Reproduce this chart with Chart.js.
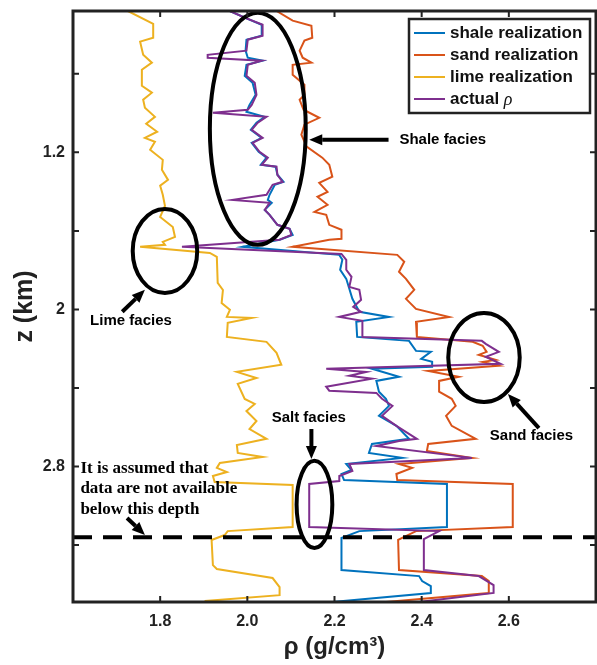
<!DOCTYPE html>
<html>
<head>
<meta charset="utf-8">
<script src="https://cdn.jsdelivr.net/npm/chart.js@4.4.0/dist/chart.umd.min.js"></script>
<style>
  html, body { margin: 0; padding: 0; background: #fff; }
  #wrap { width: 597px; height: 665px; }
</style>
</head>
<body>
<div id="wrap"><canvas id="rhoChart" width="597" height="665"></canvas></div>
<script>
const shaleZ = [0.48,0.514,0.550,0.606,0.626,0.682,0.718,0.733,0.754,0.810,0.845,0.907,0.958,0.993,1.019,1.049,1.085,1.126,1.151,1.197,1.227,1.263,1.273,1.314,1.350,1.365,1.416,1.442,1.457,1.493,1.518,1.569,1.589,1.620,1.645,1.681,1.722,1.747,1.798,1.844,1.895,1.946,2.012,2.038,2.063,2.140,2.160,2.211,2.216,2.252,2.267,2.292,2.302,2.343,2.364,2.419,2.455,2.491,2.542,2.593,2.659,2.685,2.731,2.756,2.787,2.818,2.838,2.869,2.889,3.108,3.129,3.164,3.327,3.358,3.383,3.409,3.444,3.49];
const shaleRho = [1.960,1.994,2.033,2.033,1.998,1.996,2.001,2.035,1.998,1.994,2.012,2.019,2.005,1.998,2.040,2.021,2.008,2.033,2.010,2.026,2.044,2.031,2.065,2.069,2.083,2.063,2.051,2.047,2.056,2.040,2.051,2.069,2.097,2.104,2.074,1.989,2.211,2.218,2.213,2.227,2.234,2.241,2.257,2.325,2.250,2.252,2.371,2.387,2.421,2.399,2.424,2.424,2.286,2.348,2.296,2.302,2.318,2.325,2.302,2.342,2.371,2.286,2.279,2.355,2.227,2.239,2.216,2.222,2.458,2.458,2.257,2.216,2.216,2.394,2.401,2.421,2.421,2.195];

const sandZ = [0.48,0.529,0.555,0.616,0.631,0.682,0.718,0.743,0.754,0.805,0.856,0.907,0.932,0.983,1.024,1.059,1.110,1.171,1.227,1.263,1.324,1.355,1.401,1.426,1.467,1.503,1.518,1.569,1.594,1.640,1.645,1.681,1.722,1.757,1.808,1.844,1.900,1.946,1.997,2.038,2.063,2.140,2.165,2.185,2.216,2.231,2.257,2.267,2.287,2.313,2.343,2.364,2.419,2.455,2.491,2.542,2.593,2.659,2.685,2.721,2.756,2.787,2.807,2.838,2.869,2.889,3.108,3.129,3.174,3.327,3.358,3.383,3.444,3.49];
const sandRho = [2.067,2.104,2.147,2.149,2.131,2.120,2.127,2.147,2.104,2.104,2.131,2.131,2.120,2.129,2.165,2.131,2.124,2.136,2.172,2.188,2.195,2.165,2.184,2.161,2.184,2.154,2.181,2.188,2.216,2.216,2.188,2.104,2.344,2.360,2.348,2.364,2.383,2.364,2.387,2.463,2.387,2.389,2.517,2.540,2.549,2.531,2.570,2.540,2.577,2.415,2.485,2.440,2.440,2.469,2.478,2.456,2.469,2.524,2.415,2.412,2.515,2.348,2.378,2.342,2.344,2.609,2.609,2.387,2.346,2.348,2.538,2.554,2.554,2.318];

const limeZ = [0.48,0.545,0.616,0.636,0.703,0.743,0.779,0.861,0.896,0.932,0.973,1.019,1.054,1.095,1.126,1.146,1.187,1.238,1.289,1.340,1.370,1.416,1.472,1.529,1.580,1.631,1.656,1.671,1.681,1.712,1.732,1.865,1.901,1.967,2.002,2.038,2.043,2.068,2.140,2.165,2.221,2.282,2.318,2.349,2.379,2.456,2.481,2.517,2.568,2.609,2.659,2.690,2.731,2.751,2.782,2.807,2.828,2.848,2.879,2.894,3.108,3.129,3.149,3.174,3.302,3.322,3.368,3.414,3.455,3.485];
const limeRho = [1.726,1.784,1.784,1.754,1.761,1.781,1.758,1.758,1.781,1.761,1.765,1.788,1.768,1.793,1.765,1.788,1.777,1.806,1.804,1.818,1.800,1.806,1.811,1.800,1.829,1.834,1.806,1.811,1.754,1.914,1.930,1.932,1.944,1.941,1.960,1.953,2.010,1.955,1.953,2.044,2.067,2.078,1.976,2.021,1.978,1.994,2.017,1.998,2.021,2.005,2.044,1.976,1.978,2.035,1.937,1.930,1.953,1.921,1.925,2.104,2.104,1.955,1.948,1.918,1.921,1.930,2.058,2.074,2.074,1.902];

const actualZ = [0.48,0.514,0.550,0.606,0.626,0.682,0.703,0.718,0.733,0.754,0.810,0.845,0.907,0.958,0.983,0.998,1.019,1.049,1.085,1.126,1.151,1.197,1.227,1.263,1.273,1.314,1.350,1.365,1.416,1.442,1.457,1.493,1.518,1.569,1.589,1.620,1.645,1.681,1.717,1.747,1.798,1.834,1.885,1.900,1.951,1.987,2.012,2.038,2.058,2.140,2.160,2.175,2.216,2.241,2.277,2.302,2.318,2.338,2.353,2.394,2.414,2.425,2.455,2.491,2.542,2.593,2.659,2.670,2.695,2.756,2.787,2.823,2.848,2.874,2.889,3.108,3.129,3.170,3.327,3.358,3.404,3.444,3.49];
const actualRho = [1.960,1.994,2.035,2.035,2.001,1.998,1.909,1.909,2.033,2.001,1.998,2.017,2.021,2.010,2.001,1.921,2.044,2.024,2.010,2.035,2.012,2.028,2.047,2.033,2.067,2.069,2.081,2.058,2.044,1.966,2.051,2.040,2.051,2.069,2.097,2.101,2.074,1.850,2.216,2.227,2.227,2.239,2.234,2.257,2.261,2.243,2.261,2.211,2.264,2.264,2.538,2.547,2.577,2.547,2.581,2.181,2.273,2.234,2.286,2.181,2.188,2.296,2.309,2.333,2.309,2.342,2.389,2.348,2.296,2.515,2.234,2.241,2.211,2.211,2.142,2.142,2.440,2.405,2.405,2.531,2.565,2.565,2.394];

const xTicks = [1.6, 1.8, 2.0, 2.2, 2.4, 2.6, 2.8];
const xTickLabels = ['', '1.8', '2.0', '2.2', '2.4', '2.6', ''];
const yTicks = [0.8, 1.2, 1.6, 2.0, 2.4, 2.8, 3.2];
const yTickLabels = ['', '1.2', '', '2', '', '2.8', ''];

// depth below which data are assumed unavailable
const cutoffDepth = 3.16;

// hand-drawn annotations, placed in data units
const notes = {
  ellipses: [
    { rho: 2.024, z: 1.080, dRho: 0.110, dZ: 0.591 },
    { rho: 1.811, z: 1.702, dRho: 0.074, dZ: 0.214 },
    { rho: 2.543, z: 2.245, dRho: 0.082, dZ: 0.227 },
    { rho: 2.154, z: 2.993, dRho: 0.041, dZ: 0.222 }
  ],
  arrows: [
    { from: [2.324, 1.136], to: [2.142, 1.136] },
    { from: [1.713, 2.012], to: [1.765, 1.900] },
    { from: [2.669, 2.604], to: [2.598, 2.431] },
    { from: [2.147, 2.609], to: [2.147, 2.762] },
    { from: [1.724, 3.062], to: [1.765, 3.149] }
  ],
  labels: [
    { text: 'Shale facies', rho: 2.349, z: 1.136, align: 'left' },
    { text: 'Lime facies', rho: 1.733, z: 2.060, align: 'center' },
    { text: 'Sand facies', rho: 2.652, z: 2.644, align: 'center' },
    { text: 'Salt facies', rho: 2.141, z: 2.552, align: 'center' }
  ],
  depthNote: ['It is assumed that', 'data are not available', 'below this depth'],
  depthNoteZ: [2.811, 2.915, 3.017],
  depthNoteRho: 1.617
};

const SANS = '"Liberation Sans", Arial, Helvetica, sans-serif';
const SERIF = '"Liberation Serif", "Times New Roman", serif';

function toPoints(zs, rhos) {
  return zs.map((z, i) => ({ x: rhos[i], y: z }));
}

function drawArrow(ctx, x0, y0, x1, y1) {
  const ang = Math.atan2(y1 - y0, x1 - x0);
  const len = 13, half = 5.5;
  const bx = x1 - len * Math.cos(ang), by = y1 - len * Math.sin(ang);
  ctx.beginPath();
  ctx.moveTo(x0, y0);
  ctx.lineTo(bx, by);
  ctx.stroke();
  ctx.beginPath();
  ctx.moveTo(x1, y1);
  ctx.lineTo(bx + half * Math.sin(ang), by - half * Math.cos(ang));
  ctx.lineTo(bx - half * Math.sin(ang), by + half * Math.cos(ang));
  ctx.closePath();
  ctx.fill();
}

const overlay = {
  id: 'overlay',
  afterDraw(chart) {
    const { ctx, chartArea: a, scales: { x, y } } = chart;
    ctx.save();

    // cutoff depth
    ctx.strokeStyle = '#000';
    ctx.lineWidth = 4;
    ctx.setLineDash([19, 11]);
    const yc = y.getPixelForValue(cutoffDepth);
    ctx.beginPath();
    ctx.moveTo(a.left, yc);
    ctx.lineTo(a.right, yc);
    ctx.stroke();
    ctx.setLineDash([]);

    // facies ellipses
    notes.ellipses.forEach(e => {
      const cx = x.getPixelForValue(e.rho), cy = y.getPixelForValue(e.z);
      const rx = Math.abs(x.getPixelForValue(e.rho + e.dRho) - cx);
      const ry = Math.abs(y.getPixelForValue(e.z + e.dZ) - cy);
      ctx.beginPath();
      ctx.ellipse(cx, cy, rx, ry, 0, 0, Math.PI * 2);
      ctx.stroke();
    });

    // arrows
    ctx.fillStyle = '#000';
    ctx.lineWidth = 4;
    notes.arrows.forEach(ar => {
      drawArrow(ctx,
        x.getPixelForValue(ar.from[0]), y.getPixelForValue(ar.from[1]),
        x.getPixelForValue(ar.to[0]), y.getPixelForValue(ar.to[1]));
    });

    // labels
    ctx.font = 'bold 15px ' + SANS;
    ctx.textBaseline = 'middle';
    notes.labels.forEach(l => {
      ctx.textAlign = l.align;
      ctx.fillText(l.text, x.getPixelForValue(l.rho), y.getPixelForValue(l.z));
    });
    ctx.font = 'bold 17px ' + SERIF;
    ctx.textAlign = 'left';
    notes.depthNote.forEach((t, i) => {
      ctx.fillText(t, x.getPixelForValue(notes.depthNoteRho), y.getPixelForValue(notes.depthNoteZ[i]));
    });

    // axes box with inward ticks
    ctx.strokeStyle = '#222';
    ctx.lineWidth = 2;
    xTicks.forEach(v => {
      const px = x.getPixelForValue(v);
      ctx.beginPath();
      ctx.moveTo(px, a.bottom); ctx.lineTo(px, a.bottom - 6);
      ctx.moveTo(px, a.top); ctx.lineTo(px, a.top + 6);
      ctx.stroke();
    });
    yTicks.forEach(v => {
      const py = y.getPixelForValue(v);
      ctx.beginPath();
      ctx.moveTo(a.left, py); ctx.lineTo(a.left + 6, py);
      ctx.moveTo(a.right, py); ctx.lineTo(a.right - 6, py);
      ctx.stroke();
    });
    ctx.lineWidth = 3;
    ctx.strokeRect(a.left, a.top, a.right - a.left, a.bottom - a.top);

    // legend
    const bx = a.right - 187, by = a.top + 8, bw = 181, bh = 94;
    ctx.fillStyle = '#fff';
    ctx.fillRect(bx, by, bw, bh);
    ctx.strokeStyle = '#222';
    ctx.lineWidth = 2.5;
    ctx.strokeRect(bx, by, bw, bh);
    ctx.textAlign = 'left';
    ctx.textBaseline = 'middle';
    chart.data.datasets.forEach((ds, i) => {
      const ry = by + 14 + i * 22;
      ctx.strokeStyle = ds.borderColor;
      ctx.lineWidth = 2;
      ctx.beginPath();
      ctx.moveTo(bx + 5, ry); ctx.lineTo(bx + 36, ry);
      ctx.stroke();
      ctx.fillStyle = '#111';
      if (ds.label === 'actual ρ') {
        ctx.font = 'bold 17px ' + SANS;
        ctx.fillText('actual ', bx + 41, ry);
        const w = ctx.measureText('actual ').width;
        ctx.font = 'italic 18px ' + SERIF;
        ctx.fillText('ρ', bx + 41 + w, ry + 1);
      } else {
        ctx.font = 'bold 17px ' + SANS;
        ctx.fillText(ds.label, bx + 41, ry);
      }
    });

    ctx.restore();
  }
};

const tickFont = { family: SANS, size: 16, weight: 'bold' };

new Chart(document.getElementById('rhoChart'), {
  type: 'line',
  data: {
    datasets: [
      { label: 'shale realization', data: toPoints(shaleZ, shaleRho), borderColor: '#0072BD', order: 2 },
      { label: 'sand realization', data: toPoints(sandZ, sandRho), borderColor: '#D95319', order: 3 },
      { label: 'lime realization', data: toPoints(limeZ, limeRho), borderColor: '#EDB120', order: 4 },
      { label: 'actual ρ', data: toPoints(actualZ, actualRho), borderColor: '#7E2F8E', order: 1 }
    ]
  },
  options: {
    responsive: false,
    animation: false,
    devicePixelRatio: 1,
    indexAxis: 'y',
    elements: {
      line: { borderWidth: 2, tension: 0, fill: false },
      point: { radius: 0 }
    },
    layout: { padding: { top: 11, right: 1, left: 0, bottom: 0 } },
    plugins: { legend: { display: false }, tooltip: { enabled: false } },
    scales: {
      x: {
        type: 'linear',
        position: 'bottom',
        min: 1.6,
        max: 2.8,
        afterBuildTicks: s => { s.ticks = xTicks.map(v => ({ value: v })); },
        // fixed axis height, and no extra side padding for the edge labels
        afterFit: s => { s.height = 63; s.paddingLeft = 0; s.paddingRight = 0; },
        grid: { display: false, drawTicks: false },
        border: { display: false },
        ticks: {
          autoSkip: false, maxRotation: 0, padding: 10, color: '#222', font: tickFont,
          callback: (v, i) => xTickLabels[i]
        },
        title: {
          display: true, text: 'ρ (g/cm³)', color: '#222',
          font: { family: SANS, size: 24, weight: 'bold' },
          padding: { top: 0, bottom: 3 }
        }
      },
      y: {
        type: 'linear',
        position: 'left',
        reverse: true,
        min: 0.48,
        max: 3.49,
        afterBuildTicks: s => { s.ticks = yTicks.map(v => ({ value: v })); },
        afterFit: s => { s.width = 73; s.paddingTop = 0; s.paddingBottom = 0; },
        grid: { display: false, drawTicks: false },
        border: { display: false },
        ticks: {
          autoSkip: false, padding: 8, color: '#222', font: tickFont,
          callback: (v, i) => yTickLabels[i]
        },
        title: {
          display: true, text: 'z (km)', color: '#222',
          font: { family: SANS, size: 25, weight: 'bold' },
          padding: { top: 10, bottom: 0 }
        }
      }
    }
  },
  plugins: [overlay]
});
</script>
</body>
</html>
